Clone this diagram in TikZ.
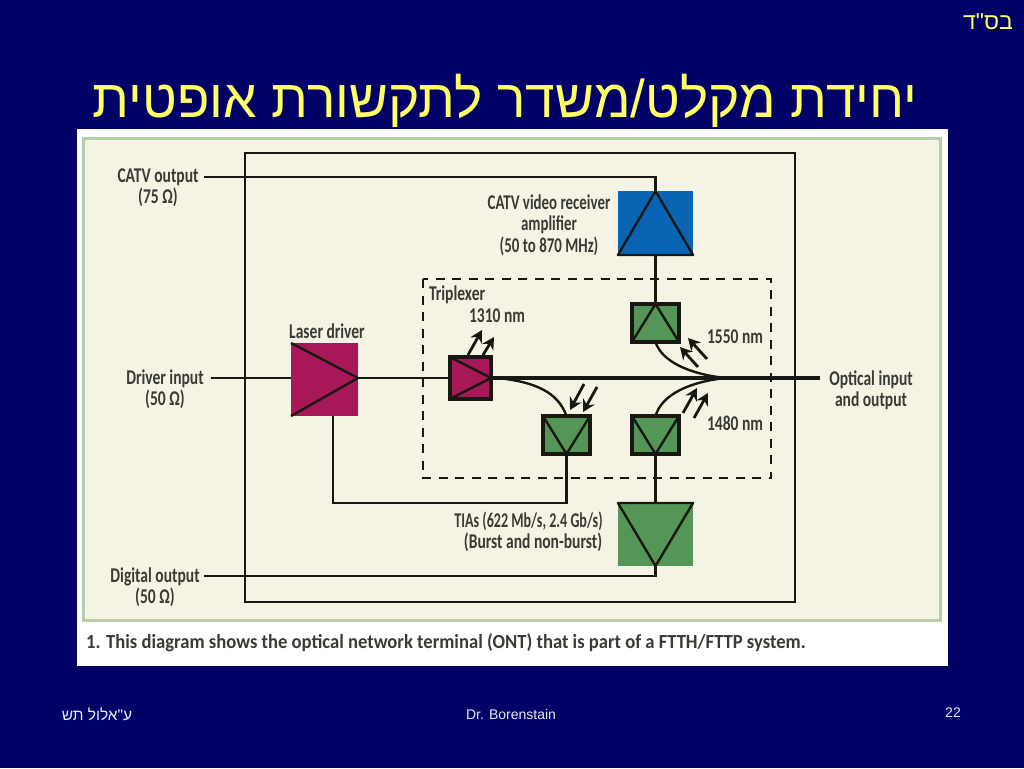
\documentclass[tikz,border=0pt]{standalone}
\usepackage{fontspec}
\TeXXeTstate=1
\setmainfont{Liberation Sans}
\newfontfamily\hebfont[Script=Hebrew]{Liberation Sans}
\newfontfamily\labfont[FakeStretch=0.74]{Carlito Bold}
\newfontfamily\labnarrow[FakeStretch=0.71]{Carlito Bold}
\newfontfamily\tiafont[FakeStretch=0.67]{Carlito Bold}
\newfontfamily\capfont[FakeStretch=0.93]{Carlito Bold}
\usetikzlibrary{arrows.meta}
\definecolor{navy}{HTML}{000066}
\definecolor{ttl}{HTML}{FFFF66}
\definecolor{cream}{HTML}{F5F3E4}
\definecolor{frame}{HTML}{B5CFA8}
\definecolor{mag}{HTML}{A81858}
\definecolor{grn}{HTML}{559558}
\definecolor{blu}{HTML}{0A64B4}
\definecolor{ink}{HTML}{181812}
\tikzset{
  lab/.style={font=\labfont\fontsize{21}{21}\selectfont,text=ink!85!white,align=center,inner sep=0,outer sep=0},
  wire/.style={draw=ink,line width=2.2pt},
  thin wire/.style={draw=ink,line width=1.9pt},
  amp/.style={rectangle,inner sep=0,outer sep=0},
  cell/.style={amp,draw=ink,line width=3.2pt},
  tri/.style={draw=ink,line width=2.4pt,line join=round},
  ray/.style={draw=ink,line width=2.8pt,-{Stealth[length=12pt,width=13pt]}},
  foot/.style={text=white!92!navy,inner sep=0},
}
\begin{document}
\begin{tikzpicture}[x=1pt,y=-1pt]
\useasboundingbox (0,0) rectangle (1024,768);
\fill[navy] (0,0) rectangle (1024,768);
\node[inner sep=0,text=ttl,font=\hebfont\fontsize{53.3}{56}\selectfont] (title) at (505,101) {\beginR יחידת מקלט/משדר לתקשורת אופטית\endR};
\node[inner sep=0,text=ttl,font=\hebfont\fontsize{23}{25}\selectfont] (bsd) at (988,22) {\beginR בס"ד\endR};
\node[foot,font=\hebfont\fontsize{15.5}{17}\selectfont] (fa) at (97,714) {\beginR ע"אלול תש\endR};
\node[foot,font=\fontsize{14}{16}\selectfont] (fb) at (511,714) {Dr. Borenstain};
\node[foot,font=\fontsize{14}{16}\selectfont] (fc) at (953,713) {22};
\fill[white] (77,129) rectangle (948,666);
\draw[frame,line width=3pt,fill=cream] (83,138) rectangle (940,620);
% outer box and dashed triplexer box
\draw[thin wire] (245,153) rectangle (795,602);
\draw[draw=ink,line width=2.2pt,dash pattern=on 9pt off 7.5pt] (423,279) rectangle (771,478);
% nodes
\node[amp,fill=blu,minimum width=75pt,minimum height=64pt] (catv) at (655.5,223) {};
\node[amp,fill=mag,minimum width=67pt,minimum height=73pt] (laser) at (324.5,379.5) {};
\node[amp,fill=grn,minimum width=75pt,minimum height=63pt] (tia) at (655.5,534.5) {};
\node[cell,fill=mag,minimum width=41pt,minimum height=42pt] (tx) at (470.5,378) {};
\node[cell,fill=grn,minimum width=47pt,minimum height=38pt] (d15) at (655.5,323) {};
\node[cell,fill=grn,minimum width=47pt,minimum height=38pt] (d13) at (566.5,435) {};
\node[cell,fill=grn,minimum width=47pt,minimum height=38pt] (d14) at (655.5,435) {};
\coordinate (catvin) at (204,177);
\coordinate (drvin) at (211,378);
\coordinate (digout) at (204,576);
\coordinate (opt) at (820,378);
\coordinate (merge) at (725,378);
\coordinate (split) at (498,378);
\coordinate (lapex) at (358,378);
\coordinate (lwest) at (291,378);
\coordinate (lout) at (333,416);
\coordinate (lbend) at (333,503);
% triangles
\draw[tri] (catv.south west) -- (catv.north) -- (catv.south east) -- cycle;
\draw[tri] (tia.north west) -- (tia.south) -- (tia.north east) -- cycle;
\draw[tri] (laser.north west) -- (lapex) -- (laser.south west);
\draw[tri] (tx.north west) -- (tx.east) -- (tx.south west);
\draw[tri] (d15.south west) -- (d15.north) -- (d15.south east);
\draw[tri] (d13.north west) -- (d13.south) -- (d13.north east);
\draw[tri] (d14.north west) -- (d14.south) -- (d14.north east);
% connectors
\draw[wire] (catvin) -| (catv.north);
\draw[wire] (catv.south) -- (d15.north);
\draw[wire] (drvin) -- (lwest);
\draw[wire] (lapex) -- (tx.west);
\draw[wire] (lout) -- (lbend) -| (d13.south);
\draw[wire] (d14.south) -- (tia.north);
\draw[wire] (tia.south) |- (digout);
\draw[draw=ink,line width=4.5pt] (tx.east) -- (opt);
\draw[draw=ink,line width=2.4pt] (d15.south) .. controls (662,362) and (690,374) .. (merge);
\draw[draw=ink,line width=2.4pt] (d14.north) .. controls (662,394) and (690,382) .. (merge);
\draw[draw=ink,line width=2.4pt] (split) .. controls (535,382) and (558,392) .. (d13.north);
% light rays
\coordinate (r1a) at (468,355); \coordinate (r1b) at (482,330);
\coordinate (r2a) at (483,355); \coordinate (r2b) at (494,337);
\coordinate (r3a) at (584,384); \coordinate (r3b) at (570,410);
\coordinate (r4a) at (597,387); \coordinate (r4b) at (583,412);
\coordinate (r5a) at (698,367); \coordinate (r5b) at (680,347);
\coordinate (r6a) at (707,359); \coordinate (r6b) at (688,338);
\coordinate (r7a) at (683,413); \coordinate (r7b) at (697,388);
\coordinate (r8a) at (694,418); \coordinate (r8b) at (708,393);
\foreach \k in {1,...,8} \draw[ray] (r\k a) -- (r\k b);
% labels
\node[lab] (l1) at (158,188) {CATV output\\(75 Ω)};
\node[lab] (l2) at (165,389.5) {Driver input\\(50 Ω)};
\node[lab] (l3) at (155,587) {Digital output\\(50 Ω)};
\node[lab] (l4) at (327,331) {Laser driver};
\node[lab,font=\labnarrow\fontsize{21}{21.5}\selectfont] (l5) at (549,225) {CATV video receiver\\amplifier\\(50 to 870 MHz)};
\node[lab,anchor=west] (l6) at (429,295) {Triplexer};
\node[lab] (l7) at (497,316) {1310 nm};
\node[lab] (l8) at (735,337) {1550 nm};
\node[lab] (l9) at (735,423) {1480 nm};
\node[lab] (l10) at (871,390) {Optical input\\and output};
\node[lab,font=\tiafont\fontsize{21}{21}\selectfont] (l11) at (528.5,521) {TIAs (622 Mb/s, 2.4 Gb/s)};
\node[lab] (l12) at (533,542) {(Burst and non-burst)};
\node[inner sep=0,anchor=west,text=ink!85!white,font=\capfont\fontsize{20}{22}\selectfont] (cap) at (86,643) {1. This diagram shows the optical network terminal (ONT) that is part of a FTTH/FTTP system.};
\end{tikzpicture}
\end{document}
